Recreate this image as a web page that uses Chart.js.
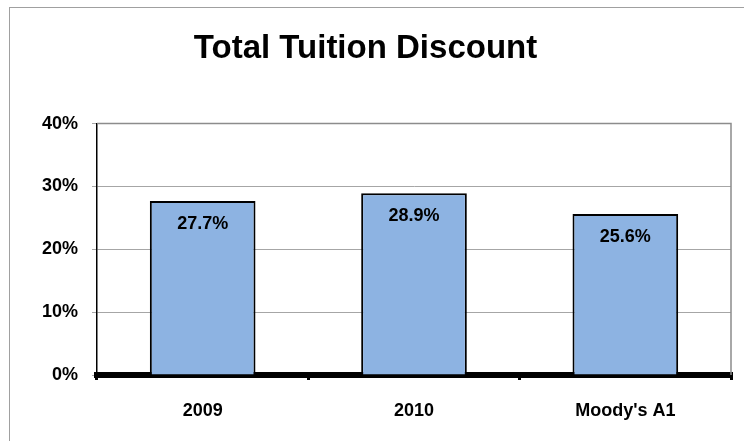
<!DOCTYPE html>
<html>
<head>
<meta charset="utf-8">
<script src="https://cdn.jsdelivr.net/npm/chart.js@4"></script>
<style>
  html,body{margin:0;padding:0;background:#fff;overflow:hidden;}
  #wrap{position:relative;width:744px;height:441px;}
  #frame{position:absolute;left:9px;top:7px;width:800px;height:500px;border:1px solid #a0a0a0;}
  canvas{position:absolute;left:0;top:0;}
</style>
</head>
<body>
<div id="wrap">
  <div id="frame"></div>
  <canvas id="c" width="744" height="441"></canvas>
</div>
<script>
const categories = ['2009', '2010', "Moody's A1"];
const discount = [27.7, 28.9, 25.6];
const yTicks = [0, 10, 20, 30, 40];

const FONT = 'Liberation Sans, Arial, sans-serif';

// gray frame around the plot + value labels inside the bars
const plotFrame = {
  id: 'plotFrame',
  beforeDatasetsDraw(chart){
    const {ctx, chartArea:a} = chart;
    ctx.save();
    ctx.strokeStyle = '#8c8c8c';
    ctx.lineWidth = 1.5;
    ctx.beginPath();
    ctx.moveTo(a.left, a.top);
    ctx.lineTo(a.right, a.top);
    ctx.lineTo(a.right, a.bottom);
    ctx.stroke();
    ctx.restore();
  },
  afterDatasetsDraw(chart){
    const {ctx} = chart;
    const meta = chart.getDatasetMeta(0);
    ctx.save();
    ctx.font = 'bold 18px ' + FONT;
    ctx.fillStyle = '#000';
    ctx.textAlign = 'center';
    ctx.textBaseline = 'middle';
    meta.data.forEach((bar, i) => {
      ctx.fillText(discount[i].toFixed(1) + '%', bar.x, bar.y + 23);
    });
    ctx.restore();
  }
};

new Chart(document.getElementById('c'), {
  type: 'bar',
  data: {
    labels: categories,
    datasets: [{
      data: discount,
      backgroundColor: '#8db3e2',
      borderColor: '#000',
      borderWidth: 2,
      borderSkipped: 'bottom',
      barPercentage: 0.5,
      categoryPercentage: 1.0
    }]
  },
  options: {
    responsive: false,
    animation: false,
    layout: {padding: {left: 0, right: 13, top: 0, bottom: 21}},
    plugins: {
      legend: {display: false},
      tooltip: {enabled: false},
      title: {
        display: true,
        text: 'Total Tuition Discount',
        color: '#000',
        font: {family: FONT, size: 33, weight: 'bold'},
        padding: {top: 29, bottom: 55}
      }
    },
    scales: {
      x: {
        grid: {display: true, drawOnChartArea: false, drawTicks: true, tickLength: 5, color: '#000', lineWidth: 3, offset: true},
        border: {display: true, color: '#000', width: 6},
        ticks: {color: '#000', font: {family: FONT, size: 18, weight: 'bold'}, padding: 20},
        afterFit: s => { s.height = 45; }
      },
      y: {
        min: 0, max: 40,
        afterBuildTicks: s => { s.ticks = yTicks.map(v => ({value: v})); },
        grid: {color: '#a6a6a6', lineWidth: 1, tickLength: 5, tickColor: '#a6a6a6'},
        border: {display: true, color: '#000', width: 1.5},
        ticks: {color: '#000', font: {family: FONT, size: 18, weight: 'bold'}, padding: 14, callback: v => v + '%'},
        afterFit: s => { s.width = 97; }
      }
    }
  },
  plugins: [plotFrame]
});
</script>
</body>
</html>
